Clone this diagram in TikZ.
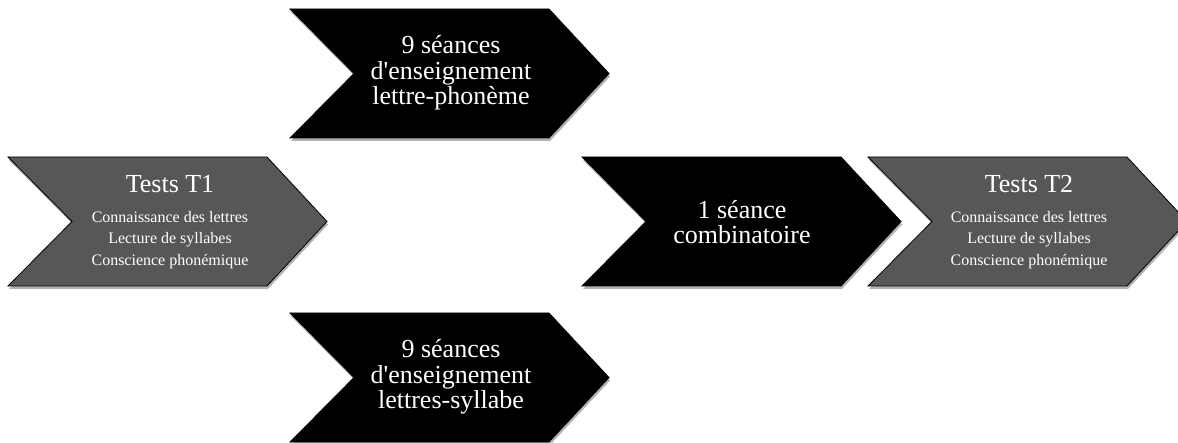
\documentclass[tikz,border=0pt]{standalone}
\usepackage{fontspec}
\setmainfont{Liberation Serif}
\usetikzlibrary{positioning,shadows}
\definecolor{testgray}{HTML}{575757}

\begin{document}
\begin{tikzpicture}[x=1pt, y=-1pt,
  chev/.style={draw=black, line width=0.8pt, line join=miter,
    drop shadow={shadow xshift=1pt, shadow yshift=-3pt, opacity=0.3, fill=black}},
  seance/.style={chev, fill=black},
  testbox/.style={chev, fill=testgray},
  big/.style={text=white, align=center, font=\fontsize{26}{25.5}\selectfont},
  ttl/.style={text=white, font=\fontsize{26}{28}\selectfont},
  items/.style={text=white, align=center, inner sep=0pt, font=\fontsize{16}{21.8}\selectfont}]
\useasboundingbox (0,0) rectangle (1178,443);
% chevrons: left x / top y / style
\foreach \l/\t/\s in {8/157/testbox, 290/9/seance, 582/157/seance, 868/157/testbox, 290/313/seance}
  \draw[\s] (\l,\t) -- ++(259,0) -- ++(60,64.5) -- ++(-60,64.5) -- ++(-259,0) -- ++(64,-64.5) -- cycle;
% tests
\node[ttl, anchor=base] (t1) at (170,193) {Tests T1};
\node[items, below=14pt of t1] (t1i) {Connaissance des lettres\\Lecture de syllabes\\Conscience phonémique};
\node[ttl, anchor=base] (t2) at (1029,193) {Tests T2};
\node[items, below=14pt of t2] (t2i) {Connaissance des lettres\\Lecture de syllabes\\Conscience phonémique};
% seances
\node[big] (phon) at (451,73) {9 séances\\d{\textquotesingle}enseignement\\lettre-phonème};
\node[big] (comb) at (742,222) {1 séance\\combinatoire};
\node[big] (syll) at (451,377) {9 séances\\d{\textquotesingle}enseignement\\lettres-syllabe};
\end{tikzpicture}
\end{document}
